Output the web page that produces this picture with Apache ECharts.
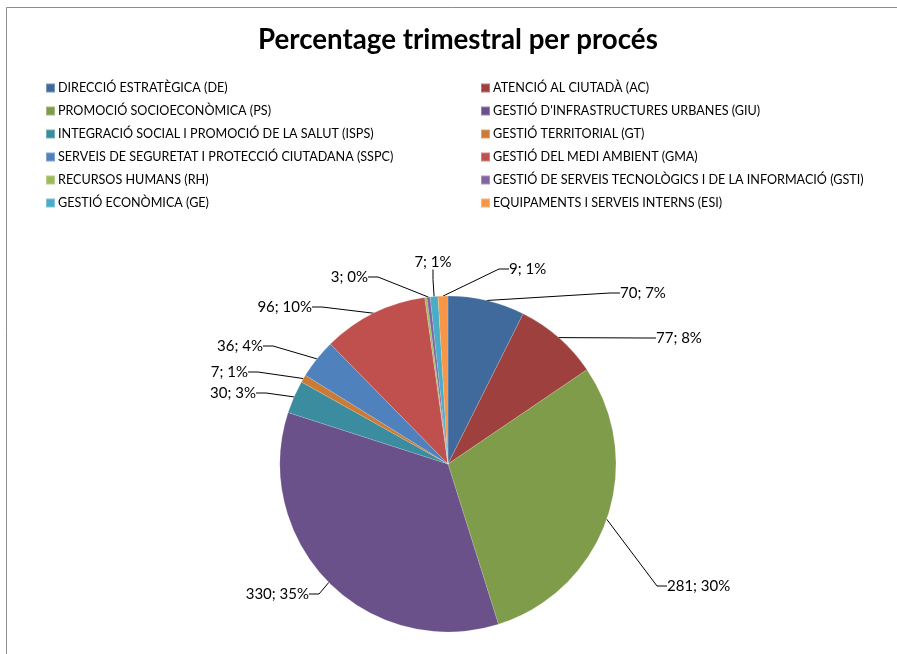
<!DOCTYPE html>
<html>
<head>
<meta charset="utf-8">
<script src="https://cdn.jsdelivr.net/npm/echarts@6/dist/echarts.min.js"></script>
<style>html,body{margin:0;padding:0;background:#fff}#c{width:897px;height:654px}</style>
</head>
<body>
<div id="c"></div>
<script>
var titleText = 'Percentage trimestral per procés';
var categories = [
  'DIRECCIÓ ESTRATÈGICA (DE)',
  'ATENCIÓ AL CIUTADÀ (AC)',
  'PROMOCIÓ SOCIOECONÒMICA (PS)',
  "GESTIÓ D'INFRASTRUCTURES URBANES (GIU)",
  'INTEGRACIÓ SOCIAL I PROMOCIÓ DE LA SALUT (ISPS)',
  'GESTIÓ TERRITORIAL (GT)',
  'SERVEIS DE SEGURETAT I PROTECCIÓ CIUTADANA (SSPC)',
  'GESTIÓ DEL MEDI AMBIENT (GMA)',
  'RECURSOS HUMANS (RH)',
  'GESTIÓ DE SERVEIS TECNOLÒGICS I DE LA INFORMACIÓ (GSTI)',
  'GESTIÓ ECONÒMICA (GE)',
  'EQUIPAMENTS I SERVEIS INTERNS (ESI)'
];
var values = [70, 77, 281, 330, 30, 7, 36, 96, 2, 3, 7, 9];
var showLabel = [true, true, true, true, true, true, true, true, false, true, true, true];
var colors = ['#3F6A9B', '#9E413E', '#7F9C4A', '#6A5189', '#3B8C9F', '#CC7B36', '#4F81BD', '#C0504D', '#9BBB59', '#8064A2', '#4BACC6', '#F79646'];

var leftCol = [], rightCol = [];
categories.forEach(function (c, i) { (i % 2 === 0 ? leftCol : rightCol).push(c); });

// label placement (page px): [x, y, align]
var labelPlacement = [
  [620, 293, 'left'],
  [656, 338, 'left'],
  [667, 586, 'left'],
  [309, 594, 'right'],
  [256, 393, 'right'],
  [248, 372, 'right'],
  [263, 346, 'right'],
  [312, 307, 'right'],
  [0, 0, 'left'],
  [368, 277, 'right'],
  [433, 262, 'center'],
  [509, 269, 'left']
];

var FONT = 'Lato';
var data = categories.map(function (c, i) {
  return {
    name: c,
    value: values[i],
    itemStyle: { color: colors[i] },
    label: { show: showLabel[i] },
    labelLine: { show: showLabel[i] }
  };
});

var legendCommon = {
  orient: 'vertical',
  icon: 'rect',
  itemWidth: 9,
  itemHeight: 9,
  itemGap: 9,
  top: 81,
  padding: 0,
  selectedMode: false,
  textStyle: { fontFamily: FONT, fontSize: 12.6, color: '#000', lineHeight: 14, padding: [0, 0, 0, -2] }
};

var chart = echarts.init(document.getElementById('c'), null, { renderer: 'canvas' });
chart.setOption({
  animation: false,
  backgroundColor: '#fff',
  title: {
    text: titleText,
    left: 258,
    top: 26,
    padding: 0,
    textStyle: { fontFamily: FONT, fontSize: 27.7, fontWeight: 'bold', color: '#000' }
  },
  legend: [
    Object.assign({}, legendCommon, { left: 45, data: leftCol }),
    Object.assign({}, legendCommon, { left: 480, data: rightCol })
  ],
  graphic: [{
    type: 'rect',
    shape: { x: 6.5, y: 7.5, width: 1000, height: 1000 },
    style: { fill: 'none', stroke: '#8c8c8c', lineWidth: 1 },
    silent: true
  }],
  series: [{
    type: 'pie',
    center: [448, 464],
    radius: [0, 168],
    startAngle: 90,
    clockwise: true,
    percentPrecision: 0,
    avoidLabelOverlap: false,
    label: {
      formatter: '{c}; {d}%',
      fontFamily: FONT,
      fontSize: 15,
      color: '#000'
    },
    labelLine: {
      length: 10,
      length2: 10,
      lineStyle: { color: '#000', width: 1 }
    },
    labelLayout: function (params) {
      var p = labelPlacement[params.dataIndex];
      return { x: p[0], y: p[1], align: p[2], verticalAlign: 'middle' };
    },
    itemStyle: { borderColor: 'rgba(255,255,255,0.3)', borderWidth: 0.5 },
    emphasis: { disabled: true },
    data: data
  }]
});
</script>
</body>
</html>
